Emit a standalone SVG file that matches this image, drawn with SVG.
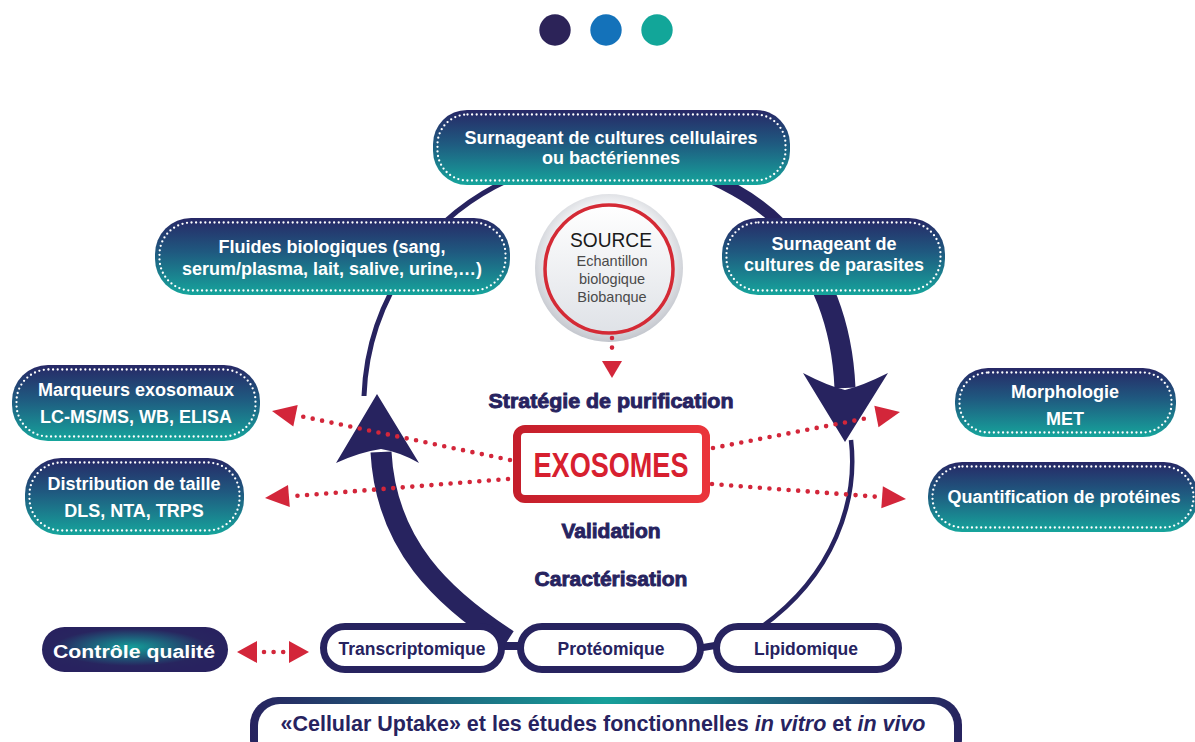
<svg xmlns="http://www.w3.org/2000/svg" width="1195" height="742" viewBox="0 0 1195 742">
<defs>
<linearGradient id="boxg" x1="0" y1="0" x2="0" y2="1">
<stop offset="0" stop-color="#272866"/>
<stop offset="0.45" stop-color="#1f5a80"/>
<stop offset="1" stop-color="#16a59c"/>
</linearGradient>
<radialGradient id="qcg" cx="0.48" cy="0.45" r="0.55">
<stop offset="0" stop-color="#139e99"/>
<stop offset="0.75" stop-color="#28255f"/>
<stop offset="1" stop-color="#28225f"/>
</radialGradient>
<linearGradient id="barg" x1="0" y1="0" x2="1" y2="0">
<stop offset="0" stop-color="#27235f"/>
<stop offset="0.5" stop-color="#16a09a"/>
<stop offset="1" stop-color="#27235f"/>
</linearGradient>
<linearGradient id="redg" x1="0" y1="0" x2="1" y2="0">
<stop offset="0" stop-color="#c41e2b"/>
<stop offset="1" stop-color="#ea353b"/>
</linearGradient>
<radialGradient id="srcout" cx="0.5" cy="0.45" r="0.55">
<stop offset="0.7" stop-color="#f3f4f6"/>
<stop offset="1" stop-color="#c3c6cd"/>
</radialGradient>
<linearGradient id="srcin" x1="0" y1="0" x2="0" y2="1">
<stop offset="0" stop-color="#ffffff"/>
<stop offset="1" stop-color="#dfe2e7"/>
</linearGradient>
<style>
.box{fill:url(#boxg)}
.dots{fill:none;stroke:#ffffff;stroke-width:2.3;stroke-dasharray:0 4.6;stroke-linecap:round}
.wt{font-family:"Liberation Sans",Arial,sans-serif;font-weight:bold;font-size:18px;fill:#ffffff;text-anchor:middle}
.nv{font-family:"Liberation Sans",Arial,sans-serif;font-weight:bold;fill:#27235f;text-anchor:middle}
.hv{font-family:"Liberation Sans",Arial,sans-serif;font-weight:bold;font-size:21px;fill:#27235f;stroke:#27235f;stroke-width:0.9;text-anchor:middle}
.omic{fill:#ffffff;stroke:#27235f;stroke-width:7}
.rdot{fill:none;stroke:#d3263a;stroke-width:4.6;stroke-dasharray:0 9.6;stroke-linecap:round}
.rhead{fill:#d3263a}
.navy{fill:none;stroke:#27235f}
.src{font-family:"Liberation Sans",Arial,sans-serif;text-anchor:middle}
</style>
</defs>
<rect width="1195" height="742" fill="#ffffff"/>

<g id="dots-top">
<circle cx="555" cy="30" r="15.7" fill="#2c2358"/>
<circle cx="606" cy="30" r="15.7" fill="#1472ba"/>
<circle cx="657" cy="30" r="15.7" fill="#12a699"/>
</g>

<g id="node-source">
<circle cx="609" cy="268" r="74" fill="url(#srcout)"/>
<circle cx="609" cy="269" r="64" fill="url(#srcin)" stroke="#d42a35" stroke-width="3.5"/>
<text class="src" x="611" y="247" font-size="21" fill="#1a1a1a" textLength="82" lengthAdjust="spacingAndGlyphs">SOURCE</text>
<text class="src" x="612" y="266" font-size="14.5" fill="#4a4a4a">Echantillon</text>
<text class="src" x="612" y="284" font-size="14.5" fill="#4a4a4a">biologique</text>
<text class="src" x="612" y="302" font-size="14.5" fill="#4a4a4a">Biobanque</text>
</g>

<g id="connectors">
<path class="navy" stroke-width="5" d="M 364 396 A 248 248 0 0 1 520 175"/>
<path class="navy" stroke-width="12" d="M 520 175 A 248 248 0 0 1 735 190 C 760 204 782 222 798 245"/>
<path class="navy" stroke-width="21" d="M 790 233 C 820 275 842 320 845 388"/>
<path fill="#27235f" d="M 845 442 L 803 373 Q 828 386 845 390 Q 862 386 888 373 Z"/>
<path class="navy" stroke-width="4.5" d="M 851 440 C 858 500 835 575 760 628"/>
<path class="navy" stroke-width="21" d="M 508 640 C 443 598 386 545 381 452"/>
<path fill="#27235f" d="M 377 394 L 336 463 Q 360 452 381 449 Q 400 452 419 463 Z"/>
<line class="navy" stroke-width="8" x1="498" y1="646" x2="524" y2="646"/>
<line class="navy" stroke-width="7" x1="700" y1="648" x2="718" y2="645"/>

<line class="rdot" x1="612" y1="338" x2="612" y2="352"/>
<polygon class="rhead" points="602,361 622,361 612,378"/>
<line class="rdot" x1="510" y1="460" x2="300" y2="416"/>
<polygon class="rhead" points="272,411 297.7,405 293.3,426.6"/>
<line class="rdot" x1="508" y1="479" x2="294" y2="496"/>
<polygon class="rhead" points="265,498 289.8,507.1 288,485.1"/>
<line class="rdot" x1="713" y1="448" x2="873" y2="417"/>
<polygon class="rhead" points="900,412 878.5,427.3 874.3,405.7"/>
<line class="rdot" x1="712" y1="484" x2="880" y2="497"/>
<polygon class="rhead" points="906,499 881.3,508.2 882.9,486.2"/>
<line class="rdot" x1="264" y1="652" x2="284" y2="652"/>
<polygon class="rhead" points="237,652 257,641 257,663"/>
<polygon class="rhead" points="309,652 289,641 289,663"/>
</g>

<g id="node-cellulaires">
<rect class="box" x="433" y="110" width="357" height="75" rx="34"/>
<rect class="dots" x="437.5" y="114.5" width="348" height="66" rx="30"/>
<text class="wt" x="611" y="144">Surnageant de cultures cellulaires</text>
<text class="wt" x="611" y="164">ou bactériennes</text>
</g>

<g id="node-fluides">
<rect class="box" x="155" y="218" width="355" height="77" rx="36"/>
<rect class="dots" x="159.5" y="222.5" width="346" height="68" rx="32"/>
<text class="wt" x="332" y="253">Fluides biologiques (sang,</text>
<text class="wt" x="332" y="275">serum/plasma, lait, salive, urine,…)</text>
</g>

<g id="node-parasites">
<rect class="box" x="722" y="218" width="223" height="77" rx="36"/>
<rect class="dots" x="726.5" y="222.5" width="214" height="68" rx="32"/>
<text class="wt" x="834" y="250">Surnageant de</text>
<text class="wt" x="834" y="271">cultures de parasites</text>
</g>

<g id="label-strategie">
<text class="hv" x="611" y="408" textLength="245" lengthAdjust="spacingAndGlyphs">Stratégie de purification</text>
</g>

<g id="node-exosomes">
<rect x="517" y="429" width="189" height="70" rx="8" fill="#ffffff" stroke="url(#redg)" stroke-width="8"/>
<text x="611" y="477" font-family="'Liberation Sans Narrow','Liberation Sans',Arial,sans-serif" font-weight="bold" font-size="35" fill="#d7202f" text-anchor="middle" textLength="155" lengthAdjust="spacingAndGlyphs">EXOSOMES</text>
</g>

<g id="label-validation">
<text class="hv" x="611" y="538" font-size="20">Validation</text>
</g>
<g id="label-caracterisation">
<text class="hv" x="611" y="586" font-size="20">Caractérisation</text>
</g>

<g id="node-marqueurs">
<rect class="box" x="12" y="365" width="248" height="76" rx="36"/>
<rect class="dots" x="16.5" y="369.5" width="239" height="67" rx="32"/>
<text class="wt" x="136" y="396">Marqueurs exosomaux</text>
<text class="wt" x="136" y="423">LC-MS/MS, WB, ELISA</text>
</g>

<g id="node-distribution">
<rect class="box" x="25" y="458" width="219" height="77" rx="36"/>
<rect class="dots" x="29.5" y="462.5" width="210" height="68" rx="32"/>
<text class="wt" x="134" y="490">Distribution de taille</text>
<text class="wt" x="134" y="517">DLS, NTA, TRPS</text>
</g>

<g id="node-morphologie">
<rect class="box" x="955" y="368" width="221" height="69" rx="33"/>
<rect class="dots" x="959.5" y="372.5" width="212" height="60" rx="29"/>
<text class="wt" x="1065" y="398">Morphologie</text>
<text class="wt" x="1065" y="425">MET</text>
</g>

<g id="node-quantification">
<rect class="box" x="928" y="462" width="270" height="70" rx="34"/>
<rect class="dots" x="932.5" y="466.5" width="261" height="61" rx="30"/>
<text class="wt" x="1064" y="503">Quantification de protéines</text>
</g>

<g id="node-controle">
<rect x="42" y="627" width="186" height="45" rx="22.5" fill="url(#qcg)"/>
<text class="wt" x="134" y="658" font-size="20" textLength="162" lengthAdjust="spacingAndGlyphs">Contrôle qualité</text>
</g>

<g id="node-transcriptomique">
<rect class="omic" x="323.5" y="626.5" width="178" height="43" rx="21.5"/>
<text class="nv" x="412" y="655" font-size="17.5">Transcriptomique</text>
</g>
<g id="node-proteomique">
<rect class="omic" x="520.5" y="626.5" width="180" height="43" rx="21.5"/>
<text class="nv" x="611" y="655" font-size="17.5">Protéomique</text>
</g>
<g id="node-lipidomique">
<rect class="omic" x="716.5" y="626.5" width="182" height="43" rx="21.5"/>
<text class="nv" x="806" y="655" font-size="17.5">Lipidomique</text>
</g>

<g id="node-uptake">
<rect x="250" y="697" width="712" height="70" rx="28" fill="url(#barg)"/>
<rect x="258" y="704" width="696" height="60" rx="22" fill="#ffffff"/>
<text x="603" y="731" font-family="'Liberation Sans',Arial,sans-serif" font-weight="bold" font-size="21.5" fill="#27235f" text-anchor="middle" textLength="645" lengthAdjust="spacingAndGlyphs">«Cellular Uptake» et les études fonctionnelles <tspan font-style="italic">in vitro</tspan> et <tspan font-style="italic">in vivo</tspan></text>
</g>
</svg>
